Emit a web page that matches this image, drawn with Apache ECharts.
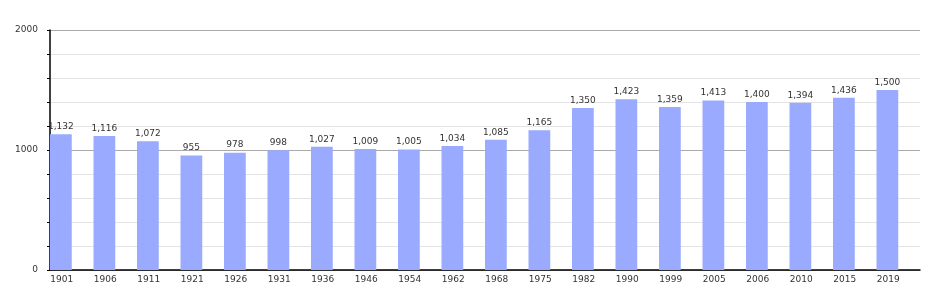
<!DOCTYPE html>
<html><head><meta charset="utf-8">
<script src="https://cdn.jsdelivr.net/npm/echarts@6/dist/echarts.min.js"></script>
<style>html,body{margin:0;padding:0;background:#fff}#c{width:950px;height:300px}</style>
</head><body><div id="c"></div>
<script>
const years = ['1901','1906','1911','1921','1926','1931','1936','1946','1954','1962','1968','1975','1982','1990','1999','2005','2006','2010','2015','2019'];
const population = [1132,1116,1072,955,978,998,1027,1009,1005,1034,1085,1165,1350,1423,1359,1413,1400,1394,1436,1500];
const yMin = 0, yMax = 2000, yStep = 1000;

const chart = echarts.init(document.getElementById('c'), null, {renderer:'canvas'});
const font = 'DejaVu Sans';
chart.setOption({
  animation:false,
  grid:{left:50, right:30, top:30, bottom:30, containLabel:false},
  xAxis:{
    type:'category', data:years, boundaryGap:true,
    axisLine:{lineStyle:{color:'#000', width:1.5}},
    axisTick:{show:false},
    axisLabel:{fontFamily:font, fontSize:9, color:'#333', margin:5, padding:[0,20,0,0], interval:0}
  },
  yAxis:{
    type:'value', min:yMin, max:yMax, interval:yStep,
    axisLine:{show:true, lineStyle:{color:'#000', width:1.5}},
    axisTick:{show:true, length:3, lineStyle:{color:'#000'}},
    minorTick:{show:true, splitNumber:5, length:3, lineStyle:{color:'#000'}},
    axisLabel:{fontFamily:font, fontSize:9, color:'#333', margin:12, formatter:v=>String(v)},
    splitLine:{show:true, lineStyle:{color:'#aaaaaa', width:1}},
    minorSplitLine:{show:true, lineStyle:{color:'#e4e4e4', width:1}}
  },
  series:[
    {type:'bar', data:population, barGap:'0%', barCategoryGap:'0%',
     itemStyle:{color:'#99aaff'},
     label:{show:true, position:'top', distance:3, fontFamily:font, fontSize:9, color:'#333',
       formatter:p=>p.value.toLocaleString('en-US')}},
    {type:'bar', data:population.map(()=>0), itemStyle:{color:'rgba(0,0,0,0)'}, silent:true}
  ]
});
</script></body></html>
